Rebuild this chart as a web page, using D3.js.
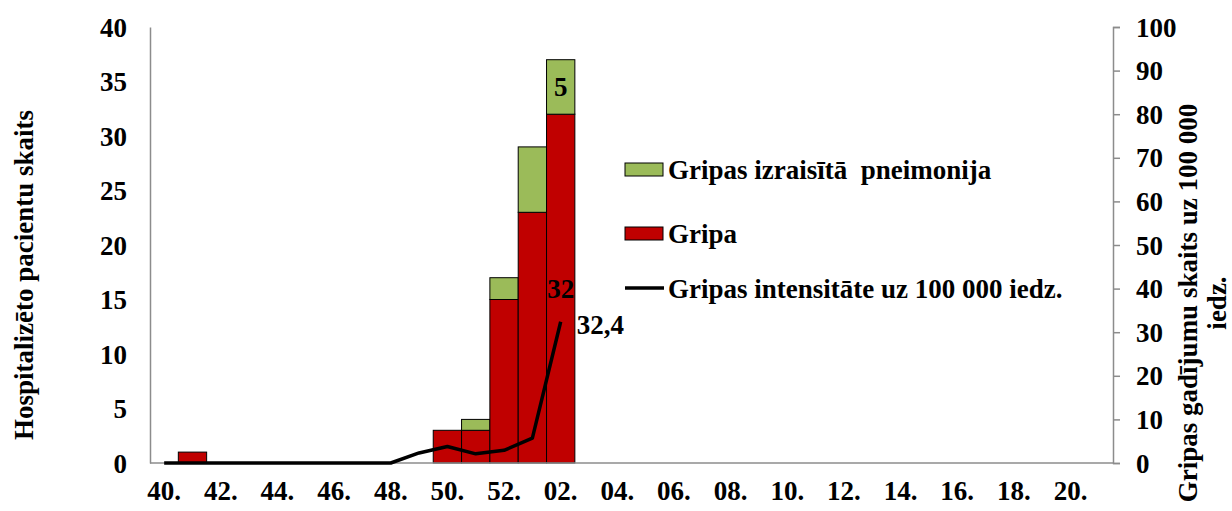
<!DOCTYPE html>
<html><head><meta charset="utf-8">
<script src="https://cdn.jsdelivr.net/npm/d3@7"></script>
<style>
html,body{margin:0;padding:0;background:#fff;}
svg text{font-family:"Times New Roman","Liberation Serif","DejaVu Serif",serif !important;font-weight:bold;fill:#000;}
</style></head>
<body>
<svg id="c" width="1232" height="511" font-family="Liberation Serif"></svg>
<script>
const weeks = ["40","41","42","43","44","45","46","47","48","49","50","51","52",
  "01","02","03","04","05","06","07","08","09","10","11","12","13","14","15","16","17","18","19","20","21"];
const barWeeks = ["41","50","51","52","01","02"];
const gripa = [1, 3, 3, 15, 23, 32];
const pneimonija = [0, 0, 1, 2, 6, 5];
const lineWeeks = ["40","41","42","43","44","45","46","47","48","49","50","51","52","01","02"];
const intensitate = [0,0,0,0,0,0,0,0,0,2.3,3.8,2.1,2.9,5.7,32.4];
const leftTicks = [0,5,10,15,20,25,30,35,40];
const rightTicks = [0,10,20,30,40,50,60,70,80,90,100];
const labels = {legend:["Gripas izraisītā  pneimonija","Gripa","Gripas intensitāte uz 100 000 iedz."],
  yLeft:"Hospitalizēto pacientu skaits", yRight:["Gripas gadījumu skaits uz 100 000","iedz."]};

const FONT = '"Times New Roman","Liberation Serif","DejaVu Serif",serif';
const svg = d3.select("#c");
const L = 150, R = 1113, T = 27, B = 463;
const x = d3.scaleBand().domain(weeks).range([L, R]).padding(0);
const yL = d3.scaleLinear().domain([0,40]).range([B, T]);
const yR = d3.scaleLinear().domain([0,100]).range([B, T]);
const FS = 27;
const axisCol = "#8c8c8c";
function styleText(sel){ sel.attr("font-family",FONT).attr("font-weight","bold").attr("font-size",FS); }

// bars
const g = svg.append("g");
barWeeks.forEach((w,i)=>{
  g.append("rect").attr("x", x(w)).attr("width", x.bandwidth())
    .attr("y", yL(gripa[i])).attr("height", yL(0)-yL(gripa[i]))
    .attr("fill","#C00000").attr("stroke","#000").attr("stroke-width",1);
  if (pneimonija[i] > 0) {
    g.append("rect").attr("x", x(w)).attr("width", x.bandwidth())
      .attr("y", yL(gripa[i]+pneimonija[i])).attr("height", yL(gripa[i])-yL(gripa[i]+pneimonija[i]))
      .attr("fill","#9BBB59").attr("stroke","#000").attr("stroke-width",1);
  }
});

// axes
const xAxis = d3.axisBottom(x).tickSize(0).tickPadding(0)
  .tickFormat((d,i)=> i%2===0 ? d+"." : "");
const xa = svg.append("g").attr("transform",`translate(0,${B})`).call(xAxis);
xa.attr("font-family",FONT);
xa.select(".domain").attr("stroke",axisCol).attr("stroke-width",1.5).attr("d",`M${L},0H${R}`);
xa.selectAll("text").call(styleText).attr("dy",null).attr("y",28).attr("dominant-baseline","central");

const la = svg.append("g").attr("transform",`translate(${L},0)`)
  .call(d3.axisLeft(yL).tickValues(leftTicks).tickSize(0).tickPadding(23));
la.attr("font-family",FONT);
la.select(".domain").attr("stroke",axisCol).attr("stroke-width",1.5);
la.selectAll("text").call(styleText).attr("dy",null).attr("dominant-baseline","central");

const ra = svg.append("g").attr("transform",`translate(${R},0)`)
  .call(d3.axisRight(yR).tickValues(rightTicks).tickSize(7).tickSizeOuter(7).tickPadding(16));
ra.attr("font-family",FONT);
ra.select(".domain").attr("stroke",axisCol).attr("stroke-width",1.5);
ra.selectAll("line").attr("stroke",axisCol).attr("stroke-width",1.5);
ra.selectAll("text").call(styleText).attr("dy",null).attr("dominant-baseline","central");

// line
const line = d3.line().x((d,i)=> x(lineWeeks[i]) + x.bandwidth()/2).y(d=> yR(d));
svg.append("path").datum(intensitate).attr("d", line)
  .attr("fill","none").attr("stroke","#000").attr("stroke-width",3.5).attr("stroke-linejoin","round");

// data labels
const iLast = barWeeks.length-1;
const cx = x(barWeeks[iLast]) + x.bandwidth()/2;
svg.append("text").attr("x",cx).attr("y", yL(gripa[iLast] + pneimonija[iLast]/2))
  .attr("text-anchor","middle").attr("dominant-baseline","central").call(styleText).text(pneimonija[iLast]);
svg.append("text").attr("x",cx).attr("y", yL(gripa[iLast]/2))
  .attr("text-anchor","middle").attr("dominant-baseline","central").call(styleText).text(gripa[iLast]);
const lv = intensitate[intensitate.length-1];
svg.append("text").attr("x", x(lineWeeks[lineWeeks.length-1]) + x.bandwidth() + 2).attr("y", yR(lv)+3)
  .attr("dominant-baseline","central").call(styleText).text(String(lv).replace(".",","));

// legend
const lg = svg.append("g");
const ly = [169, 233, 288];
lg.append("rect").attr("x",625).attr("y",ly[0]-6).attr("width",38).attr("height",13)
  .attr("fill","#9BBB59").attr("stroke","#000").attr("stroke-width",1);
lg.append("rect").attr("x",625).attr("y",ly[1]-6).attr("width",38).attr("height",13)
  .attr("fill","#C00000").attr("stroke","#000").attr("stroke-width",1);
lg.append("line").attr("x1",625).attr("x2",664).attr("y1",ly[2]).attr("y2",ly[2])
  .attr("stroke","#000").attr("stroke-width",3.5);
labels.legend.forEach((t,i)=>{
  lg.append("text").attr("x",668).attr("y",ly[i]+1).attr("dominant-baseline","central")
    .call(styleText).attr("xml:space","preserve").style("white-space","pre").text(t);
});

// axis titles
svg.append("text").attr("transform","translate(24,275) rotate(-90)")
  .attr("text-anchor","middle").attr("dominant-baseline","central").call(styleText).text(labels.yLeft);
const rt = svg.append("text").attr("transform","translate(1188,303) rotate(-90)")
  .attr("text-anchor","middle").call(styleText);
rt.append("tspan").attr("x",0).attr("dy","0.35em").text(labels.yRight[0]);
rt.append("tspan").attr("x",0).attr("dy","1.05em").text(labels.yRight[1]);
</script>
</body></html>
